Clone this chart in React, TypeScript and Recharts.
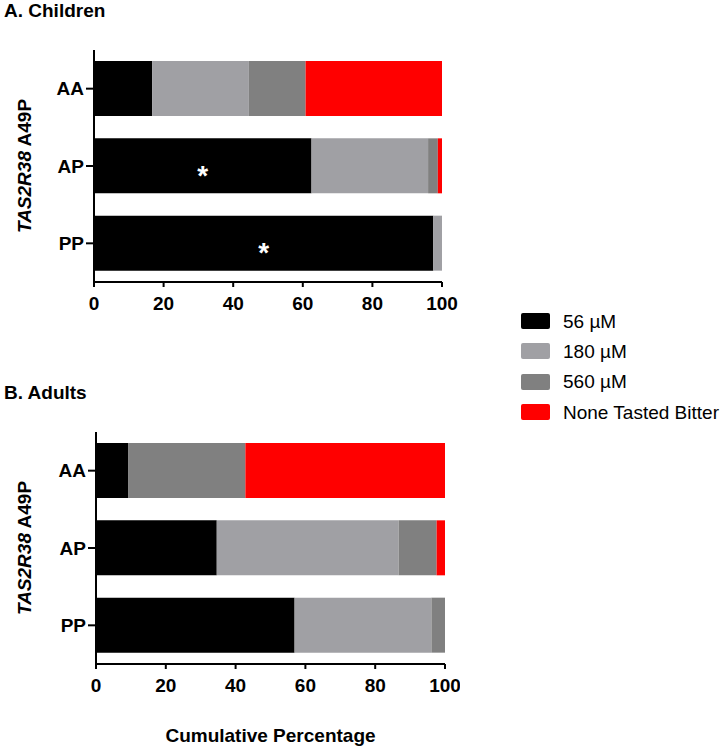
import React from "react";
import { BarChart, Bar, XAxis, YAxis, LabelList } from "recharts";

const categories = ["AA", "AP", "PP"];

// children, percent per lowest tasted concentration
const children56 = [16.7, 62.5, 97.5];
const children180 = [27.8, 33.5, 2.5];
const children560 = [16.3, 2.8, 0];
const childrenNone = [39.2, 1.2, 0];
const childrenSig = ["", "*", "*"];

// adults
const adults56 = [9.3, 34.6, 56.9];
const adults180 = [0, 52.1, 39.2];
const adults560 = [33.5, 10.9, 3.9];
const adultsNone = [57.2, 2.4, 0];
const adultsSig = ["", "", ""];

const xTicks = [0, 20, 40, 60, 80, 100];

const series = [
  { key: "c56", name: "56 µM", color: "#000000" },
  { key: "c180", name: "180 µM", color: "#a0a0a4" },
  { key: "c560", name: "560 µM", color: "#808080" },
  { key: "none", name: "None Tasted Bitter", color: "#ff0000" },
];

const FONT = "Arial, 'Liberation Sans', Helvetica, sans-serif";

const buildRows = (
  a: number[],
  b: number[],
  c: number[],
  d: number[],
  sig: string[]
) =>
  categories.map((cat, i) => ({
    cat,
    c56: a[i],
    c180: b[i],
    c560: c[i],
    none: d[i],
    sig: sig[i],
  }));

const childrenData = buildRows(
  children56,
  children180,
  children560,
  childrenNone,
  childrenSig
);
const adultsData = buildRows(
  adults56,
  adults180,
  adults560,
  adultsNone,
  adultsSig
);

const renderStar = (props: any) => {
  const { x = 0, y = 0, width = 0, height = 0, value } = props;
  if (!value) return null;
  return (
    <text
      x={Number(x) + Number(width) / 2}
      y={Number(y) + Number(height) / 2 + 19}
      textAnchor="middle"
      fill="#ffffff"
      fontSize={28}
      fontWeight="bold"
      fontFamily={FONT}
    >
      {value}
    </text>
  );
};

const YLabel = ({ viewBox }: any) => {
  const cy = viewBox.y + viewBox.height / 2;
  return (
    <text
      x={24}
      y={cy}
      transform={`rotate(-90 24 ${cy})`}
      textAnchor="middle"
      dominantBaseline="central"
      fontSize={19}
      fontWeight="bold"
      fontFamily={FONT}
      fill="#000"
    >
      <tspan fontStyle="italic">TAS2R38</tspan>
      <tspan> A49P</tspan>
    </text>
  );
};

const XLabel = ({ viewBox }: any) => (
  <text
    x={viewBox.x + viewBox.width / 2}
    y={viewBox.y + 78}
    textAnchor="middle"
    fontSize={19}
    fontWeight="bold"
    fontFamily={FONT}
    fill="#000"
  >
    Cumulative Percentage
  </text>
);

interface PanelProps {
  data: ReturnType<typeof buildRows>;
  width: number;
  height: number;
  margin: { top: number; right: number; bottom: number; left: number };
  yWidth: number;
  xHeight: number;
  showXLabel?: boolean;
}

const Panel: React.FC<PanelProps> = ({
  data,
  width,
  height,
  margin,
  yWidth,
  xHeight,
  showXLabel,
}) => {
  const axisLine = { stroke: "#000", strokeWidth: 2 };
  const tick = {
    fill: "#000",
    fontSize: 19,
    fontWeight: "bold",
    fontFamily: FONT,
  };
  return (
    <BarChart
      width={width}
      height={height}
      data={data}
      layout="vertical"
      margin={margin}
    >
      <XAxis
        type="number"
        domain={[0, 100]}
        ticks={xTicks}
        interval={0}
        height={xHeight}
        tickSize={5}
        tickMargin={10}
        axisLine={axisLine}
        tickLine={axisLine}
        tick={tick}
        label={showXLabel ? <XLabel /> : undefined}
      />
      <YAxis
        type="category"
        dataKey="cat"
        width={yWidth}
        tickSize={8}
        tickMargin={2}
        axisLine={axisLine}
        tickLine={axisLine}
        tick={tick}
        label={<YLabel />}
      />
      {series.map((s) => (
        <Bar
          key={s.key}
          dataKey={s.key}
          name={s.name}
          stackId="a"
          fill={s.color}
          barSize={55}
          isAnimationActive={false}
        >
          {s.key === "c56" && (
            <LabelList dataKey="sig" content={renderStar} />
          )}
        </Bar>
      ))}
    </BarChart>
  );
};

const App: React.FC = () => {
  return (
    <div
      style={{
        position: "absolute",
        left: 0,
        top: 0,
        width: 727,
        height: 749,
        background: "#fff",
        fontFamily: FONT,
      }}
    >
      <div
        style={{
          position: "absolute",
          left: 4,
          top: 1,
          fontSize: 19,
          lineHeight: "19px",
          fontWeight: "bold",
        }}
      >
        A. Children
      </div>
      <div style={{ position: "absolute", left: 0, top: 0 }}>
        <Panel
          data={childrenData}
          width={460}
          height={320}
          margin={{ top: 50, right: 18, bottom: 0, left: 0 }}
          yWidth={94}
          xHeight={38}
        />
      </div>

      <div
        style={{
          position: "absolute",
          left: 4,
          top: 383,
          fontSize: 19,
          lineHeight: "19px",
          fontWeight: "bold",
        }}
      >
        B. Adults
      </div>
      <div style={{ position: "absolute", left: 0, top: 370 }}>
        <Panel
          data={adultsData}
          width={460}
          height={379}
          margin={{ top: 62, right: 15, bottom: 0, left: 0 }}
          yWidth={96}
          xHeight={85}
          showXLabel
        />
      </div>

      <div style={{ position: "absolute", left: 521, top: 306 }}>
        {series.map((s) => (
          <div
            key={s.key}
            style={{
              display: "flex",
              alignItems: "center",
              height: 30.3,
            }}
          >
            <div
              style={{
                width: 29,
                height: 16,
                background: s.color,
                borderRadius: 2,
                marginRight: 13,
              }}
            />
            <span style={{ fontSize: 19, lineHeight: "19px", color: "#000" }}>
              {s.name}
            </span>
          </div>
        ))}
      </div>
    </div>
  );
};

export default App;
